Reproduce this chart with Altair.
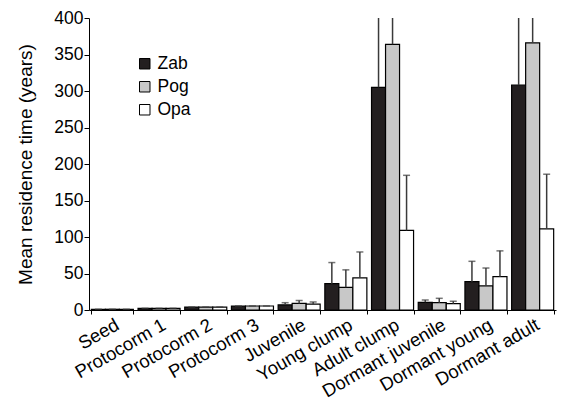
import altair as alt
import pandas as pd

stages = ["Seed", "Protocorm 1", "Protocorm 2", "Protocorm 3", "Juvenile",
          "Young clump", "Adult clump", "Dormant juvenile", "Dormant young", "Dormant adult"]
series = ["Zab", "Pog", "Opa"]
colors = ["#231f20", "#c8c8c8", "#ffffff"]

zab = [1.0, 2.3, 4.0, 5.5, 7, 36, 305, 10.5, 38.8, 308]
pog = [1.0, 2.3, 4.0, 5.5, 9, 31, 364, 10, 33, 366]
opa = [1.0, 2.3, 4.0, 5.5, 8, 44, 109, 8.6, 45.7, 111]
zab_up = [1.0, 2.3, 4.0, 5.5, 10, 65, 470, 13.7, 66.7, 470]
pog_up = [1.0, 2.3, 4.0, 5.5, 13, 55, 450, 16, 57.5, 450]
opa_up = [1.0, 2.3, 4.0, 5.5, 11, 79.5, 184.5, 12, 81, 186]

rows = []
for name, vals, ups in [("Zab", zab, zab_up), ("Pog", pog, pog_up), ("Opa", opa, opa_up)]:
    for s, v, u in zip(stages, vals, ups):
        rows.append({"stage": s, "series": name, "value": v, "upper": u})
df = pd.DataFrame(rows)

FONT = "Liberation Sans"

x = alt.X("stage:N", sort=stages, title=None,
          scale=alt.Scale(paddingInner=0.1, paddingOuter=0.05),
          axis=alt.Axis(labelAngle=-30, labelFontSize=18.5, labelColor="black",
                        labelFont=FONT, tickBand="extent", tickSize=4,
                        tickColor="black", domainColor="black", labelPadding=1,
                        labelOverlap=False))
xoff = alt.XOffset("series:N", sort=series, scale=alt.Scale(paddingInner=0, paddingOuter=0))

yaxis = alt.Axis(values=list(range(0, 401, 50)), grid=False, labelFontSize=17.5,
                 labelColor="black", labelFont=FONT, titleFont=FONT,
                 titleFontSize=19, titleFontWeight="normal", titleColor="black",
                 tickColor="black", domainColor="black", tickSize=5, labelPadding=1,
                 titlePadding=18, labelOverlap=False)
yscale = alt.Scale(domain=[0, 400], nice=False)
ytitle = "Mean residence time (years)"

base = alt.Chart(df).encode(x=x, xOffset=xoff)

bars = base.mark_bar(stroke="black", strokeWidth=1.2, clip=True).encode(
    y=alt.Y("value:Q", title=ytitle, scale=yscale, axis=yaxis),
    fill=alt.Fill("series:N", sort=series,
                  scale=alt.Scale(domain=series, range=colors),
                  legend=alt.Legend(title=None, orient="none", legendX=47, legendY=37,
                                    symbolType="square", symbolSize=110,
                                    symbolStrokeColor="black", symbolStrokeWidth=1,
                                    labelFontSize=17.5, labelFont=FONT, labelColor="black",
                                    rowPadding=4, labelOffset=4)),
)

err = base.mark_rule(color="#3a3a3a", strokeWidth=1.5, clip=True).encode(
    y=alt.Y("value:Q", title=ytitle, scale=yscale, axis=yaxis), y2="upper:Q")
caps = base.mark_tick(color="#3a3a3a", thickness=1.5, size=7, orient="horizontal",
                      clip=True).encode(
    y=alt.Y("upper:Q", title=ytitle, scale=yscale, axis=yaxis))

chart = alt.layer(bars, err, caps).properties(
    width=467, height=292,
    autosize=alt.AutoSizeParams(type="none"),
    padding={"left": 89, "top": 18, "right": 6, "bottom": 90},
).configure_view(stroke=None).configure_axis(grid=False)

chart.save("out.html", embed_options={"renderer": "svg", "actions": False})
